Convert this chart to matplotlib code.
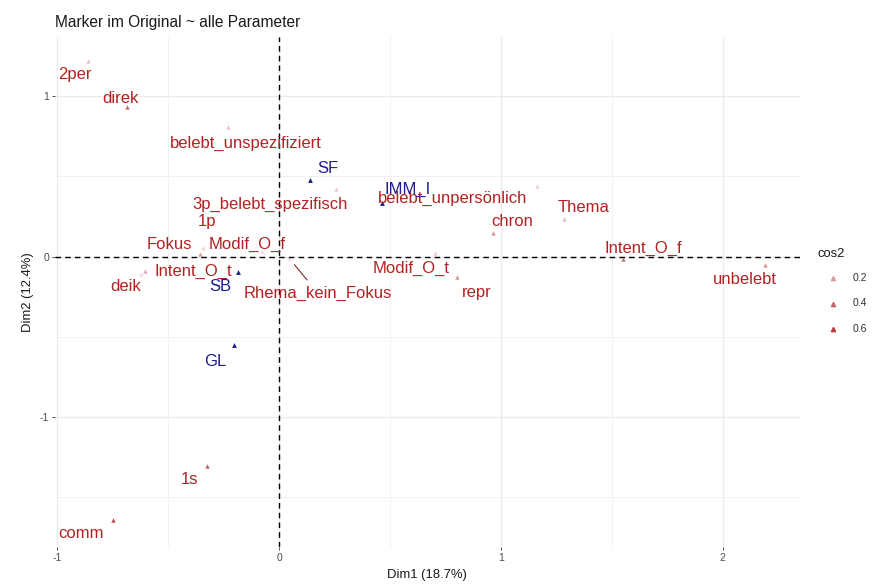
import matplotlib
matplotlib.use("Agg")
import matplotlib.pyplot as plt
import numpy as np

plt.rcParams['font.family'] = ['Liberation Sans', 'DejaVu Sans']
plt.rcParams['axes.unicode_minus'] = False

# active categories: name, Dim1, Dim2, cos2
act_names = ["2per", "direk", "belebt_unspezifiziert", "3p_belebt_spezifisch",
             "belebt_unpersönlich", "Thema", "chron", "Intent_O_f", "unbelebt",
             "Modif_O_t", "repr", "Rhema_kein_Fokus", "1p", "Fokus", "Modif_O_f",
             "deik", "Intent_O_t", "1s", "comm"]
act_x = [-0.860, -0.685, -0.230, 0.257, 1.162, 1.284, 0.964, 1.550, 2.189,
         0.703, 0.802, 0.045, -0.342, -0.356, -0.077, -0.625, -0.604, -0.324, -0.748]
act_y = [1.217, 0.932, 0.807, 0.422, 0.441, 0.236, 0.149, -0.012, -0.050,
         0.025, -0.124, -0.010, 0.056, 0.019, 0.037, -0.110, -0.087, -1.304, -1.640]
act_cos2 = [0.15, 0.50, 0.15, 0.12, 0.10, 0.18, 0.35, 0.45, 0.35,
            0.10, 0.35, 0.05, 0.08, 0.30, 0.05, 0.05, 0.25, 0.55, 0.62]
# repelled label positions
act_lx = [-0.919, -0.716, -0.149, -0.041, 0.784, 1.374, 1.050, 1.640, 2.099,
          0.595, 0.892, 0.176, -0.324, -0.495, -0.144, -0.694, -0.388, -0.405, -0.892]
act_ly = [1.137, 0.988, 0.708, 0.323, 0.360, 0.304, 0.217, 0.050, -0.143,
          -0.075, -0.224, -0.230, 0.217, 0.075, 0.075, -0.186, -0.093, -1.391, -1.727]

# supplementary categories
sup_names = ["SF", "IMM_I", "SB", "GL"]
sup_x = [0.140, 0.464, -0.185, -0.203]
sup_y = [0.478, 0.335, -0.093, -0.553]
sup_lx = [0.221, 0.581, -0.266, -0.288]
sup_ly = [0.547, 0.416, -0.186, -0.652]

legend_vals = [0.2, 0.4, 0.6]

red = "#B22222"
blue = "#1E1E8C"


def alpha_of(c):
    return min(1.0, 0.1 + 1.15 * c)


fig = plt.figure(figsize=(8.75, 5.85), dpi=100)
ax = fig.add_axes([0.063, 0.065, 0.851, 0.872])

ax.set_xlim(-1.01, 2.347)
ax.set_ylim(-1.81, 1.37)

ax.set_xticks([-1, 0, 1, 2])
ax.set_yticks([-1, 0, 1])
ax.set_xticks([-0.5, 0.5, 1.5], minor=True)
ax.set_yticks([-1.5, -0.5, 0.5], minor=True)
ax.grid(True, which='major', color='#EBEBEB', lw=0.9)
ax.grid(True, which='minor', color='#F2F2F2', lw=0.7)
ax.set_axisbelow(True)
for s in ax.spines.values():
    s.set_visible(False)
ax.tick_params(which='major', length=2.5, width=0.6, color='#333333',
               labelsize=7.5, labelcolor='#4D4D4D', pad=2)
ax.tick_params(which='minor', length=0)

ax.axhline(0, color='black', ls=(0, (4, 3)), lw=1.0)
ax.axvline(0, color='black', ls=(0, (4, 3)), lw=1.0)

for i in range(len(act_names)):
    ax.scatter(act_x[i], act_y[i], marker='^', s=10, color=red,
               alpha=alpha_of(act_cos2[i]), linewidths=0, zorder=3)
    if act_names[i] == "Rhema_kein_Fokus":
        ax.annotate(act_names[i], xy=(act_x[i], act_y[i]), xytext=(act_lx[i], act_ly[i]),
                    ha='center', va='center', fontsize=12, color=red,
                    arrowprops=dict(arrowstyle='-', color='#7A2A2A', lw=0.8,
                                    shrinkA=3, shrinkB=6), zorder=4)
    else:
        ax.text(act_lx[i], act_ly[i], act_names[i], ha='center', va='center',
                fontsize=12, color=red, zorder=4)

ax.scatter(sup_x, sup_y, marker='^', s=12, color=blue, linewidths=0, zorder=3)
for i in range(len(sup_names)):
    ax.text(sup_lx[i], sup_ly[i], sup_names[i], ha='center', va='center',
            fontsize=12, color=blue, zorder=4)

ax.set_title("Marker im Original ~ alle Parameter", loc='left', fontsize=11.2,
             color='#1A1A1A', pad=7)
ax.set_xlabel("Dim1 (18.7%)", fontsize=9.4, color='#1A1A1A', labelpad=4)
ax.set_ylabel("Dim2 (12.4%)", fontsize=9.4, color='#1A1A1A', labelpad=4)

# legend
fig.text(818 / 875, 1 - 254 / 585, "cos2", fontsize=9.4, color='#1A1A1A',
         va='center', ha='left')
for k, v in enumerate(legend_vals):
    yy = 1 - (278 + 25.5 * k) / 585
    fig.lines.append(plt.Line2D([833 / 875], [yy], marker='^', ms=3.2, color=red,
                                alpha=alpha_of(v), lw=0, transform=fig.transFigure))
    fig.text(853 / 875, yy, f"{v:.1f}", fontsize=7.5, color='#333333',
             va='center', ha='left')

fig.savefig("out.png", dpi=100)
